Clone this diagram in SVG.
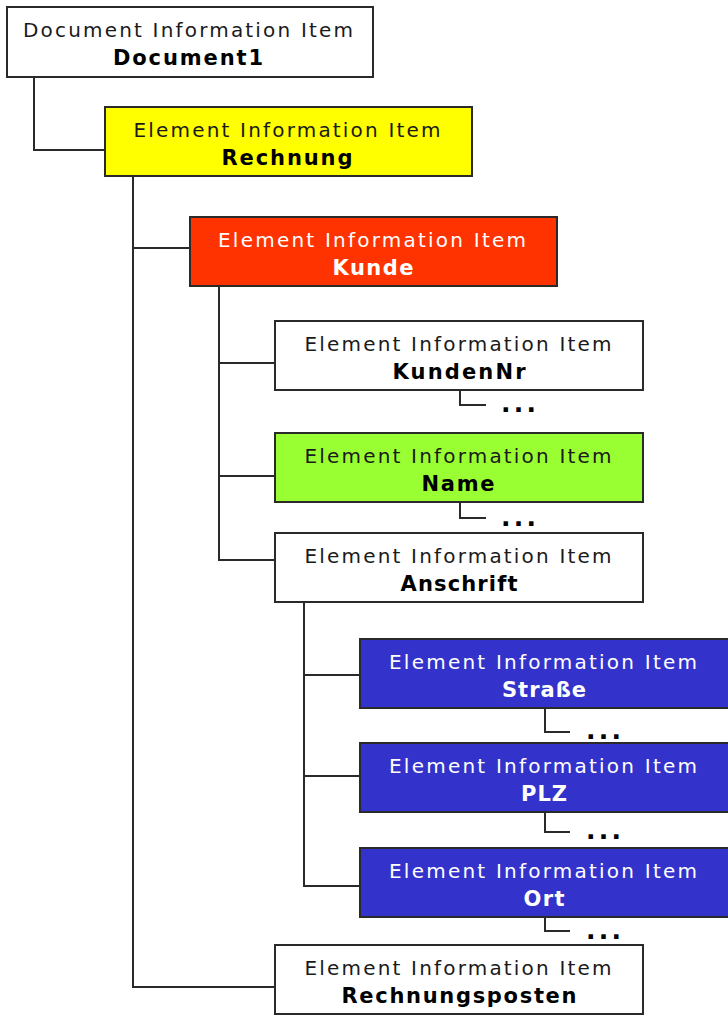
<svg xmlns="http://www.w3.org/2000/svg" width="728" height="1015" viewBox="0 0 728 1015">
  <style>
    .box { stroke: #2a2a2a; stroke-width: 2; }
    .white { fill: #ffffff; }
    .yellow { fill: #ffff00; }
    .red { fill: #ff3300; }
    .green { fill: #99ff33; }
    .blue { fill: #3333cc; }
    .kind { font-family: "DejaVu Sans", Verdana, sans-serif; font-size: 20px; fill: #1a1a1a; text-anchor: middle; }
    .name { font-family: "DejaVu Sans", Verdana, sans-serif; font-size: 21px; font-weight: bold; fill: #000000; text-anchor: middle; }
    .light .kind, .light .name { fill: #ffffff; }
    .link { fill: none; stroke: #2a2a2a; stroke-width: 2; }
    .more { font-family: "DejaVu Sans", Verdana, sans-serif; font-size: 25px; font-weight: bold; fill: #000000; }
  </style>

  <!-- tree connectors -->
  <g id="connectors">
    <path class="link" d="M34 77 V150 H105"/>
    <path class="link" d="M133 176 V987 H275"/>
    <path class="link" d="M133 248 H190"/>
    <path class="link" d="M219 287 V560 H275"/>
    <path class="link" d="M219 363 H275"/>
    <path class="link" d="M219 476 H275"/>
    <path class="link" d="M304 602 V886 H360"/>
    <path class="link" d="M304 675 H360"/>
    <path class="link" d="M304 776 H360"/>
    <!-- elided children -->
    <path class="link" d="M460 390 V405 H486"/>
    <path class="link" d="M460 502 V518 H486"/>
    <path class="link" d="M545 708 V732 H570"/>
    <path class="link" d="M545 812 V832 H570"/>
    <path class="link" d="M545 917 V931 H570"/>
    <text class="more" x="501" y="412" textLength="35" lengthAdjust="spacing">...</text>
    <text class="more" x="501" y="526" textLength="35" lengthAdjust="spacing">...</text>
    <text class="more" x="586" y="739" textLength="35" lengthAdjust="spacing">...</text>
    <text class="more" x="586" y="839" textLength="35" lengthAdjust="spacing">...</text>
    <text class="more" x="586" y="939" textLength="35" lengthAdjust="spacing">...</text>
  </g>

  <g id="document1">
    <rect class="box white" x="7" y="7" width="366" height="70"/>
    <text class="kind" x="188" y="37" textLength="330" lengthAdjust="spacing">Document Information Item</text>
    <text class="name" x="188" y="65" textLength="150" lengthAdjust="spacing">Document1</text>
  </g>

  <g id="rechnung">
    <rect class="box yellow" x="105" y="107" width="367" height="69"/>
    <text class="kind" x="287" y="137" textLength="307" lengthAdjust="spacing">Element Information Item</text>
    <text class="name" x="287" y="165" textLength="131" lengthAdjust="spacing">Rechnung</text>
  </g>

  <g id="kunde" class="light">
    <rect class="box red" x="190" y="217" width="367" height="69"/>
    <text class="kind" x="372" y="247" textLength="308" lengthAdjust="spacing">Element Information Item</text>
    <text class="name" x="373" y="275" textLength="81" lengthAdjust="spacing">Kunde</text>
  </g>

  <g id="kundennr">
    <rect class="box white" x="275" y="321" width="368" height="69"/>
    <text class="kind" x="458" y="351" textLength="307" lengthAdjust="spacing">Element Information Item</text>
    <text class="name" x="459" y="379" textLength="133" lengthAdjust="spacing">KundenNr</text>
  </g>

  <g id="name">
    <rect class="box green" x="275" y="433" width="368" height="69"/>
    <text class="kind" x="458" y="463" textLength="307" lengthAdjust="spacing">Element Information Item</text>
    <text class="name" x="458" y="491" textLength="73" lengthAdjust="spacing">Name</text>
  </g>

  <g id="anschrift">
    <rect class="box white" x="275" y="533" width="368" height="69"/>
    <text class="kind" x="458" y="563" textLength="307" lengthAdjust="spacing">Element Information Item</text>
    <text class="name" x="459" y="591" textLength="117" lengthAdjust="spacing">Anschrift</text>
  </g>

  <g id="strasse" class="light">
    <rect class="box blue" x="360" y="639" width="370" height="69"/>
    <text class="kind" x="543" y="669" textLength="308" lengthAdjust="spacing">Element Information Item</text>
    <text class="name" x="544" y="697" textLength="84" lengthAdjust="spacing">Straße</text>
  </g>

  <g id="plz" class="light">
    <rect class="box blue" x="360" y="743" width="370" height="69"/>
    <text class="kind" x="543" y="773" textLength="308" lengthAdjust="spacing">Element Information Item</text>
    <text class="name" x="544" y="801" textLength="46" lengthAdjust="spacing">PLZ</text>
  </g>

  <g id="ort" class="light">
    <rect class="box blue" x="360" y="848" width="370" height="69"/>
    <text class="kind" x="543" y="878" textLength="308" lengthAdjust="spacing">Element Information Item</text>
    <text class="name" x="544" y="906" textLength="41" lengthAdjust="spacing">Ort</text>
  </g>

  <g id="rechnungsposten">
    <rect class="box white" x="275" y="945" width="368" height="69"/>
    <text class="kind" x="458" y="975" textLength="307" lengthAdjust="spacing">Element Information Item</text>
    <text class="name" x="459" y="1003" textLength="235" lengthAdjust="spacing">Rechnungsposten</text>
  </g>
</svg>
